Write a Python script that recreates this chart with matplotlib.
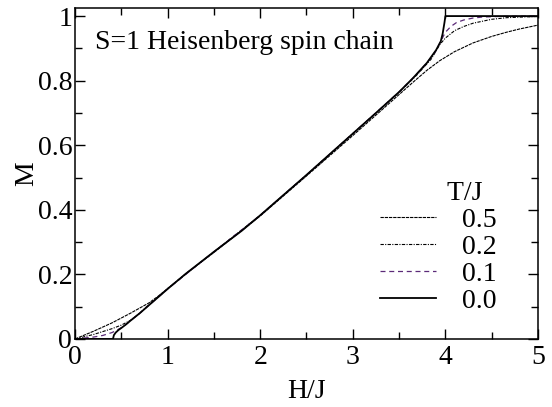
import matplotlib
matplotlib.use('Agg')
import matplotlib.pyplot as plt
from matplotlib.ticker import MultipleLocator

plt.rcParams['font.family'] = ['Liberation Serif', 'DejaVu Serif']
plt.rcParams['font.size'] = 20

# magnetization curves, one per temperature
h_t00 = [0, 0.41, 0.42, 0.44, 0.47, 0.5, 0.55, 0.6, 0.7, 0.8, 0.9, 1.0, 1.2, 1.5, 1.8,
         2.0, 2.5, 2.75, 3.0, 3.25, 3.5, 3.65, 3.8, 3.9, 3.95, 3.97, 3.99, 4.0, 5.0]
m_t00 = [0, 0, 0.012, 0.02, 0.028, 0.034, 0.045, 0.057, 0.08, 0.105, 0.13, 0.155, 0.203,
         0.27, 0.335, 0.383, 0.508, 0.572, 0.636, 0.7, 0.765, 0.808, 0.855, 0.895, 0.922,
         0.945, 0.98, 1.0, 1.0]

h_t01 = [0, 0.2, 0.3, 0.4, 0.45, 0.5, 0.55, 0.6, 0.7, 0.8, 1.0, 1.5, 2.0, 2.5, 3.0, 3.5,
         3.65, 3.8, 3.9, 3.95, 4.0, 4.06, 4.12, 4.2, 4.3, 4.4, 4.6, 5.0]
m_t01 = [0, 0.006, 0.011, 0.02, 0.027, 0.035, 0.045, 0.057, 0.08, 0.105, 0.155, 0.27, 0.383,
         0.508, 0.636, 0.765, 0.808, 0.855, 0.893, 0.922, 0.95, 0.968, 0.98, 0.988, 0.994,
         0.997, 0.999, 1.0]

h_t02 = [0, 0.2, 0.4, 0.5, 0.6, 0.7, 0.8, 0.9, 1.0, 1.5, 2.0, 2.5, 3.0, 3.5, 3.7, 3.85, 3.94,
         4.0, 4.1, 4.2, 4.3, 4.5, 4.66, 5.0]
m_t02 = [0, 0.014, 0.032, 0.043, 0.058, 0.08, 0.107, 0.131, 0.156, 0.27, 0.383, 0.508, 0.636,
         0.763, 0.82, 0.868, 0.912, 0.932, 0.955, 0.968, 0.978, 0.99, 0.995, 0.999]

h_t05 = [0, 0.2, 0.4, 0.6, 0.8, 0.9, 1.0, 1.2, 1.5, 2.0, 2.5, 3.0, 3.3, 3.5, 3.65, 3.8, 3.94,
         4.1, 4.3, 4.5, 4.66, 4.8, 5.0]
m_t05 = [0, 0.024, 0.05, 0.08, 0.112, 0.133, 0.156, 0.203, 0.268, 0.381, 0.505, 0.63, 0.706,
         0.757, 0.795, 0.832, 0.862, 0.89, 0.917, 0.937, 0.95, 0.96, 0.972]

curves = [
    ('0.5', h_t05, m_t05, dict(color='black', lw=0.8, ls=(0, (3, 0.8)))),
    ('0.2', h_t02, m_t02, dict(color='black', lw=0.8, ls=(0, (3, 1.2, 1, 1.2)))),
    ('0.1', h_t01, m_t01, dict(color='#5b2a78', lw=0.9, ls=(0, (4, 3)))),
    ('0.0', h_t00, m_t00, dict(color='black', lw=1.3, ls='-')),
]

fig = plt.figure(figsize=(5.52, 4.07), dpi=100)
ax = fig.add_axes([75 / 552, 1 - 339 / 407, 463 / 552, 331 / 407])

for label, h, m, style in curves:
    ax.plot(h, m, label=label, **style)

ax.set_xlim(0, 5)
ax.set_ylim(0, 1.025)
ax.xaxis.set_minor_locator(MultipleLocator(0.5))
ax.yaxis.set_minor_locator(MultipleLocator(0.1))
ax.set_xticks([0, 1, 2, 3, 4, 5], ['0', '1', '2', '3', '4', '5'])
ax.set_yticks([0, 0.2, 0.4, 0.6, 0.8, 1.0], ['0', '0.2', '0.4', '0.6', '0.8', '1'])
ax.tick_params(which='both', direction='in', top=True, right=True, width=1.0)
ax.tick_params(which='major', length=7)
ax.tick_params(which='minor', length=5)
ax.tick_params(axis='x', pad=4)
ax.tick_params(axis='y', pad=2)
for s in ax.spines.values():
    s.set_linewidth(1.1)

ax.set_xlabel('H/J', labelpad=7)
ax.set_ylabel('M', labelpad=-1)

ax.text(0.216, 0.917, 'S=1 Heisenberg spin chain', va='center', ha='left')

leg = ax.legend(title='T/J  ', frameon=False, loc='lower right',
                bbox_to_anchor=(0.911, 0.075), handlelength=2.0,
                handletextpad=0.95, labelspacing=0.06, borderpad=0,
                borderaxespad=0)
leg._legend_box.align = 'right'

fig.savefig('out.png', dpi=100)
